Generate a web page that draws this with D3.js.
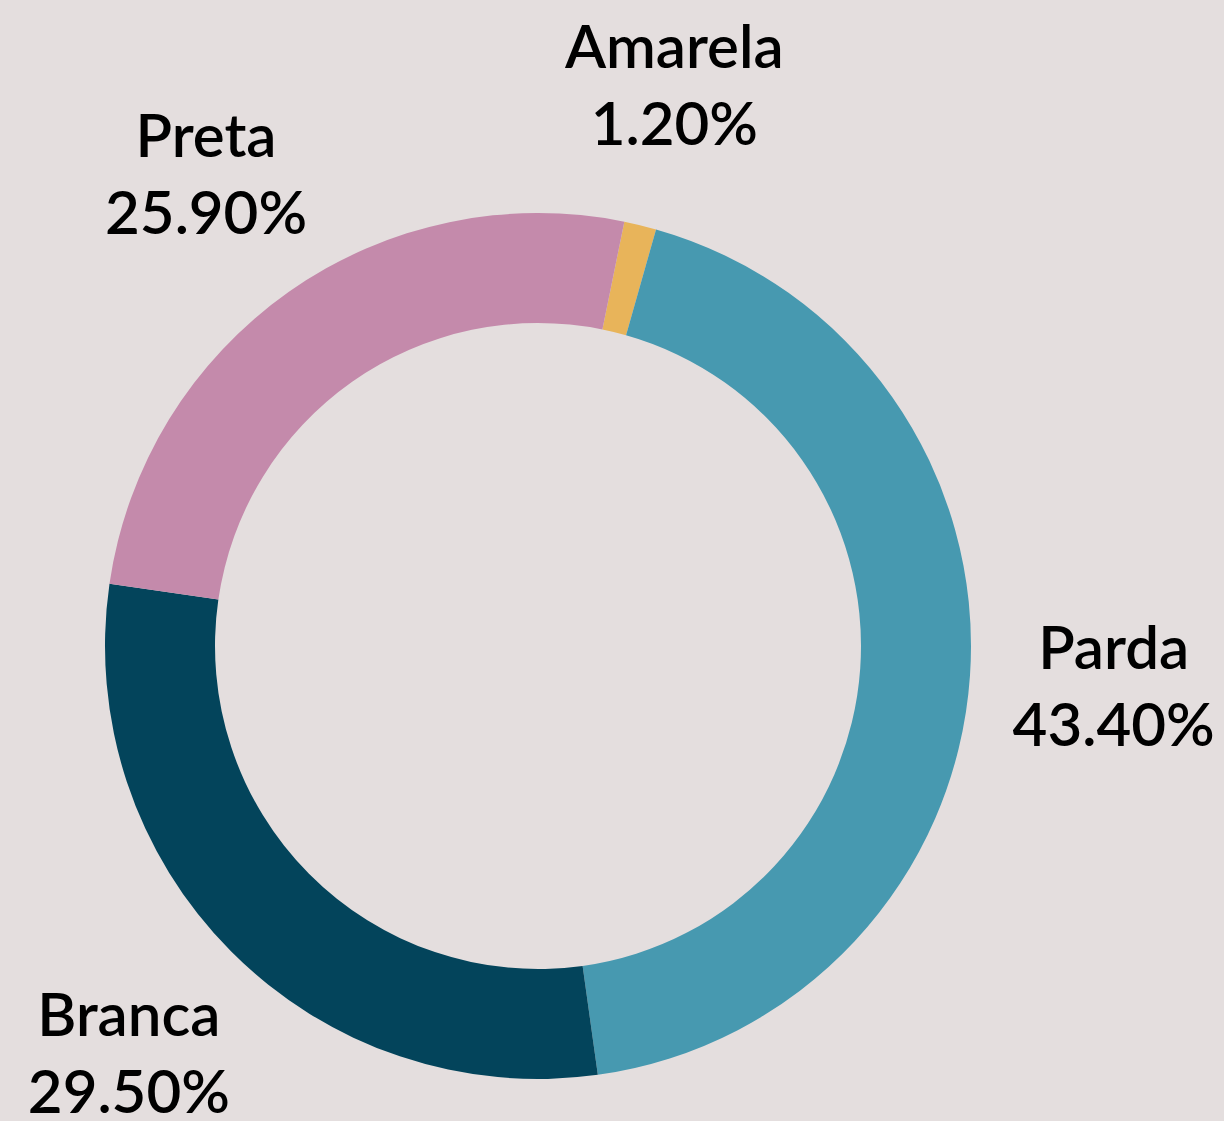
<!DOCTYPE html>
<html>
<head>
<meta charset="utf-8">
<script src="https://cdn.jsdelivr.net/npm/d3@7"></script>
<style>
  html, body { margin: 0; padding: 0; background: #e4dede; }
  svg { display: block; }
  text { font-family: Lato, "Noto Sans", sans-serif; font-weight: 600; fill: #000; }
</style>
</head>
<body>
<svg id="vis"></svg>
<script>
// chart data
var categories = ['Amarela', 'Parda', 'Branca', 'Preta'];
var shares = [1.2, 43.4, 29.5, 25.9];
var colors = ['#e8b45a', '#4799b0', '#03445b', '#c48aab'];

var width = 1224, height = 1121;
var cx = 538, cy = 646;
var outerR = 433, innerR = 323, labelR = 577;
var fontSize = 60, lineGap = 77;

var svg = d3.select('#vis')
    .attr('width', width)
    .attr('height', height);

svg.append('rect')
    .attr('width', width)
    .attr('height', height)
    .attr('fill', '#e4dede');

var data = categories.map(function(c, i){
    return {name: c, value: shares[i], color: colors[i]};
});

// first slice starts a bit past 12 o'clock
var offset = 11.5 * Math.PI / 180;

var pie = d3.pie()
    .sort(null)
    .value(function(d){ return d.value; })
    .startAngle(offset)
    .endAngle(offset + 2 * Math.PI);

var arc = d3.arc()
    .innerRadius(innerR)
    .outerRadius(outerR);

var labelArc = d3.arc()
    .innerRadius(labelR)
    .outerRadius(labelR);

var g = svg.append('g')
    .attr('transform', 'translate(' + cx + ',' + cy + ')');

var arcs = pie(data);

g.selectAll('.slice')
    .data(arcs)
    .enter()
    .append('path')
    .attr('class', 'slice')
    .attr('d', arc)
    .attr('fill', function(d){ return d.data.color; });

var labels = g.selectAll('.label')
    .data(arcs)
    .enter()
    .append('text')
    .attr('class', 'label')
    .attr('text-anchor', 'middle')
    .attr('font-size', fontSize)
    .attr('transform', function(d){
        var p = labelArc.centroid(d);
        return 'translate(' + p[0] + ',' + p[1] + ')';
    });

labels.append('tspan')
    .attr('x', 0)
    .attr('y', -17)
    .text(function(d){ return d.data.name; });

labels.append('tspan')
    .attr('x', 0)
    .attr('y', -17 + lineGap)
    .text(function(d){ return d.data.value.toFixed(2) + '%'; });
</script>
</body>
</html>
